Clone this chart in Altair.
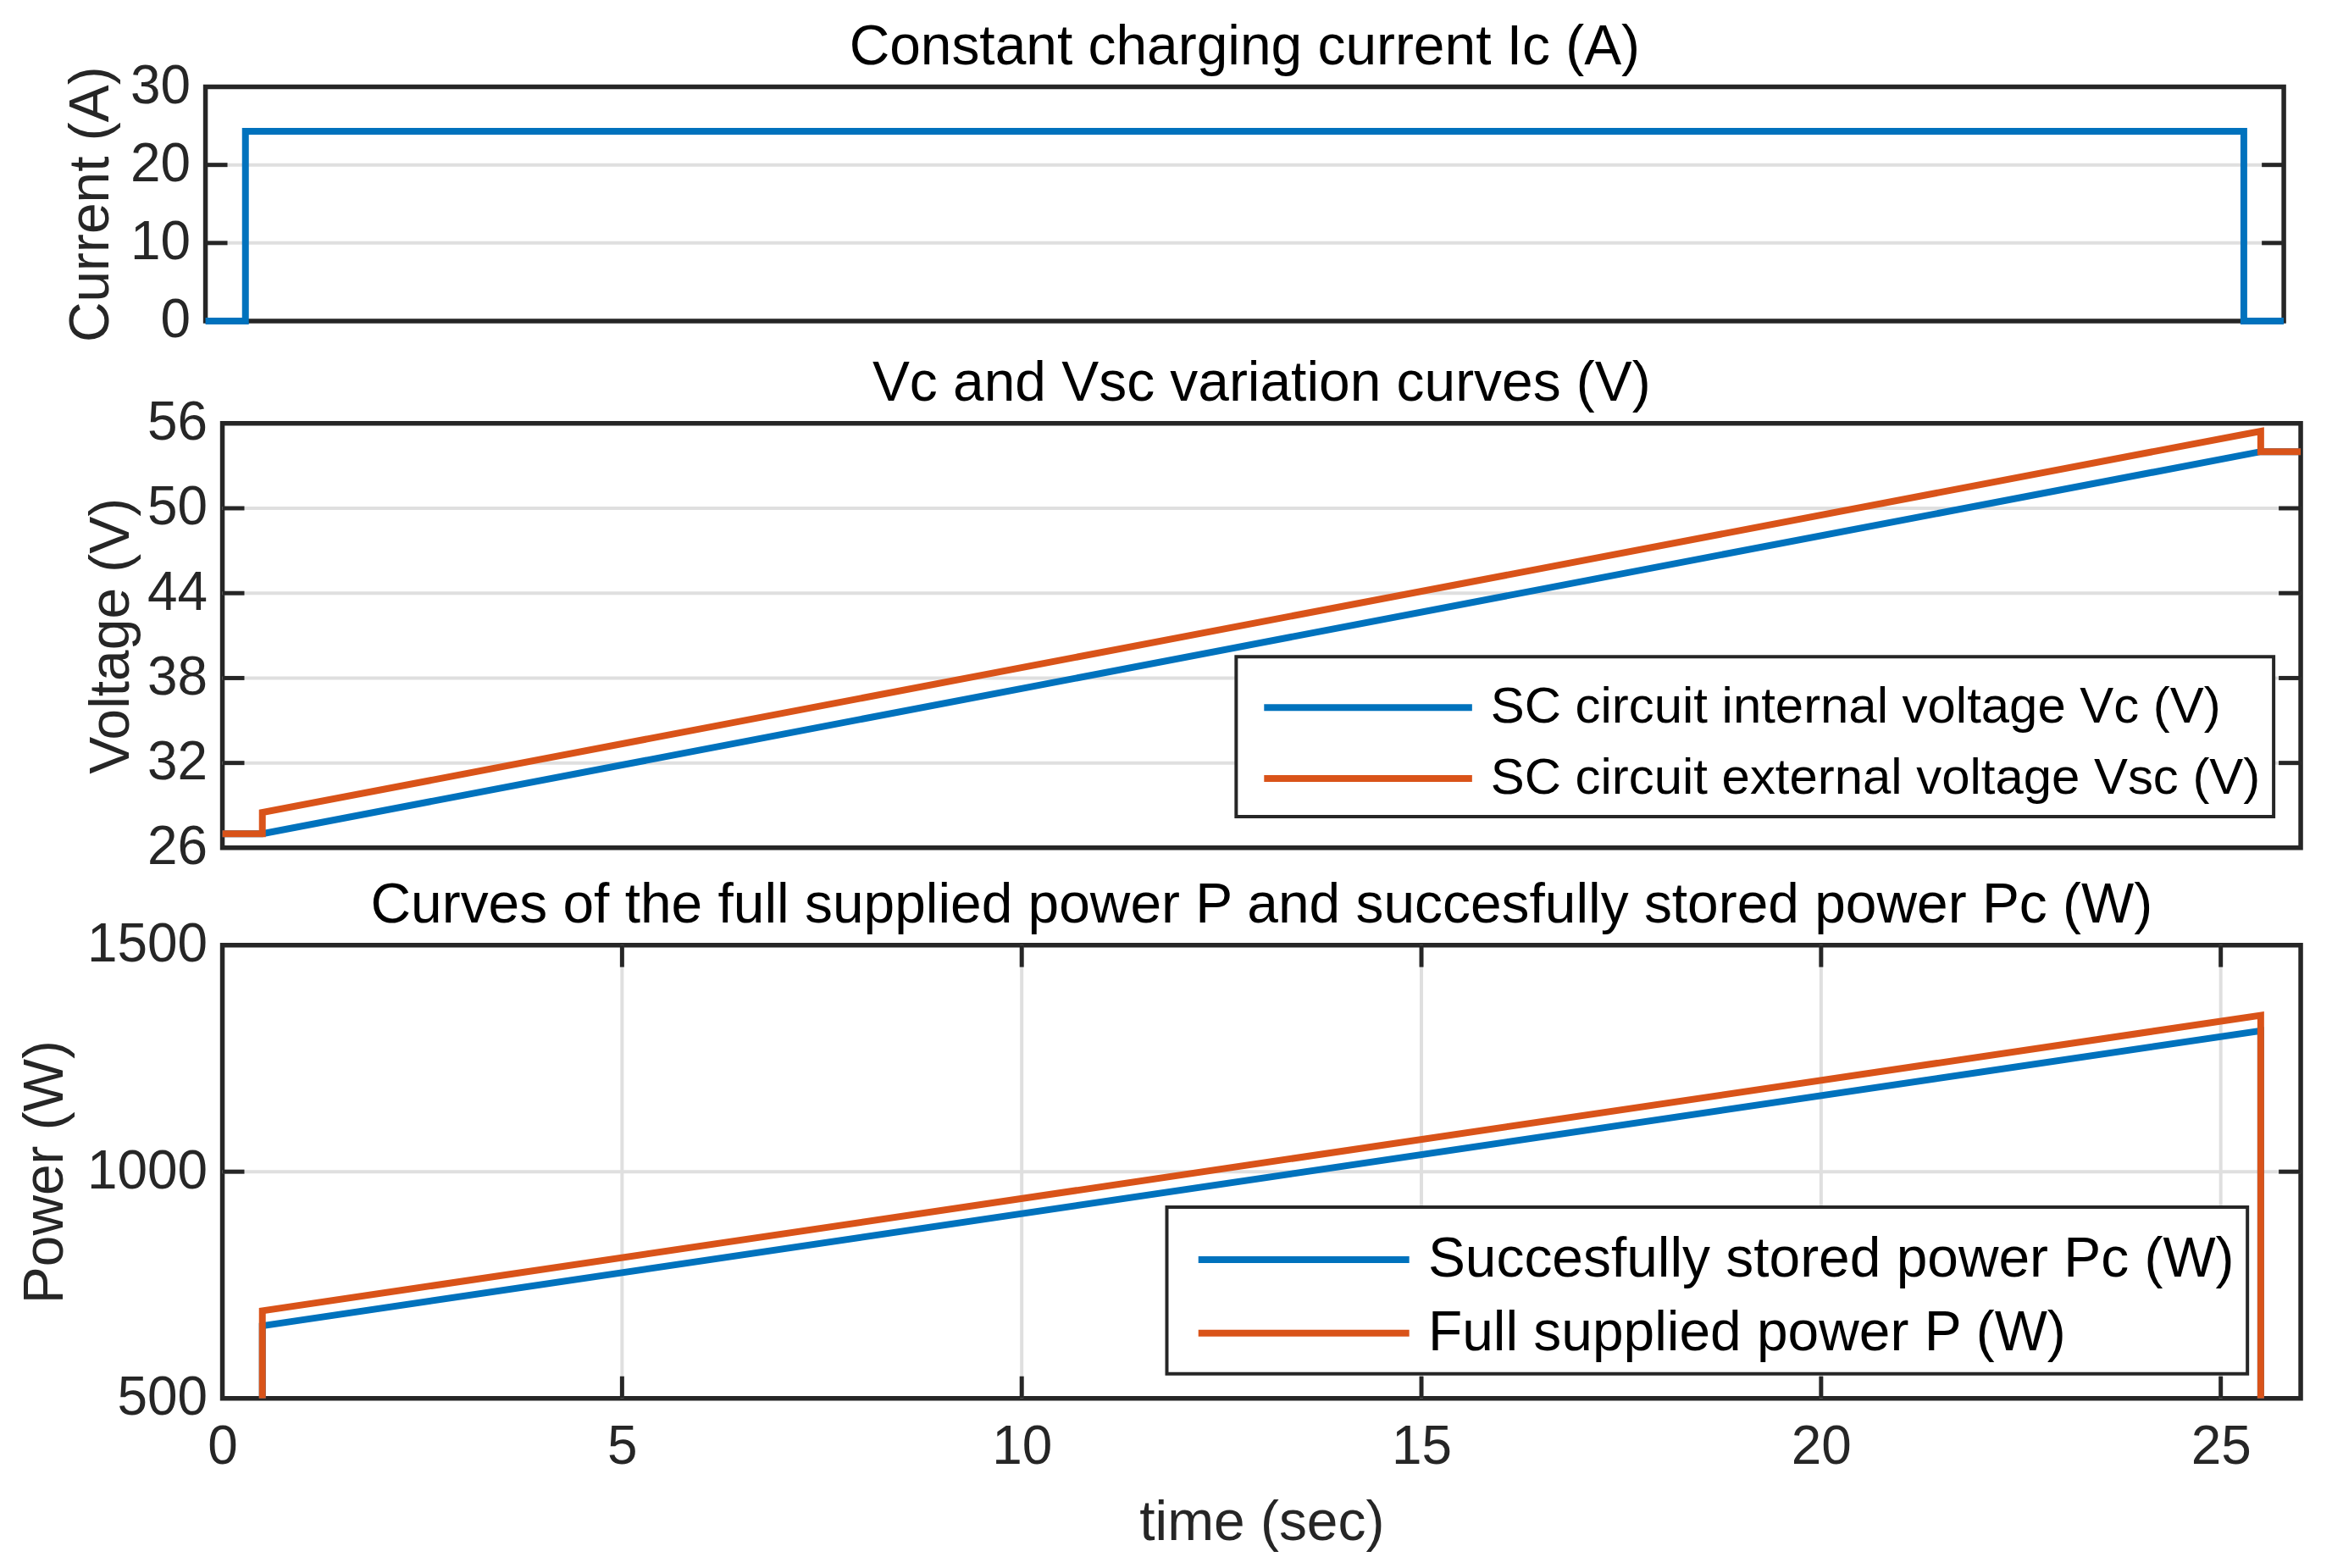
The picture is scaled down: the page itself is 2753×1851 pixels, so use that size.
import altair as alt
import pandas as pd

FONT = "Liberation Sans"
BLUE = "#0072BD"
ORANGE = "#D95319"
AX = "#262626"
GRID = "#dfdfdf"

W = 2458
H1, H2, H3 = 277, 502, 536
SHIFT = 20          # top panel sits a little further left in the original figure
BOX_W = 5.5
TICK_W = 5
GRID_W = 4

# ---------------- data ----------------
t_cur = [0, 0.5, 0.5, 25.5, 25.5, 26]
i_cur = [0, 0, 24.3, 24.3, 0, 0]

t_vc = [0, 0.5, 25.5, 26]
v_vc = [27.0, 27.0, 54.0, 54.0]
t_vsc = [0, 0.5, 0.5, 25.5, 25.5, 26]
v_vsc = [27.0, 27.0, 28.5, 55.45, 54.0, 54.0]

t_pow = [0, 0.5, 0.5, 25.5, 25.5, 26]
p_pc = [0, 0, 660, 1311, 0, 0]
p_p = [0, 0, 693, 1345, 0, 0]

x_ticks = [0, 5, 10, 15, 20, 25]
x_inner_ticks = [5, 10, 15, 20, 25]
y1_ticks = [0, 10, 20, 30]
y1_inner = [10, 20]
y2_ticks = [26, 32, 38, 44, 50, 56]
y2_inner = [32, 38, 44, 50]
y3_ticks = [500, 1000, 1500]
y3_inner = [1000]

LBL_VC = "SC circuit internal voltage Vc (V)"
LBL_VSC = "SC circuit external voltage Vsc (V)"
LBL_PC = "Succesfully stored power Pc (W)"
LBL_P = "Full supplied power P (W)"


def series(t, v, name):
    return pd.DataFrame({"t": t, "v": v, "i": list(range(len(t))), "s": name})


xs = alt.Scale(domain=[0, 26], nice=False, zero=False)
xs_top = alt.Scale(domain=[0, 26], range=[-SHIFT, W - SHIFT], nice=False, zero=False)
TICK_LEN = 26


def title(txt, dx=0):
    return alt.TitleParams(txt, font=FONT, fontSize=66, fontWeight="normal",
                           color="black", offset=-85, baseline="bottom",
                           frame="group", anchor="middle", dx=dx)


def yaxis(vals, ttl, tpad, lpad=18):
    return alt.Axis(values=vals, title=ttl, grid=False, format="d",
                    titlePadding=tpad, labelPadding=lpad)


def ygrid_and_ticks(vals, scale, ax, x0=0):
    df = pd.DataFrame({"v": vals})
    grid = alt.Chart(df).mark_rule(color=GRID, strokeWidth=GRID_W).encode(
        y=alt.Y("v:Q", scale=scale, axis=ax),
        x=alt.value(x0), x2=alt.value(x0 + W))
    left = alt.Chart(df).mark_rule(color=AX, strokeWidth=TICK_W).encode(
        y=alt.Y("v:Q", scale=scale, axis=ax),
        x=alt.value(x0), x2=alt.value(x0 + TICK_LEN))
    right = alt.Chart(df).mark_rule(color=AX, strokeWidth=TICK_W).encode(
        y=alt.Y("v:Q", scale=scale, axis=ax),
        x=alt.value(x0 + W - TICK_LEN), x2=alt.value(x0 + W))
    return [grid, left, right]


# ---------------- top panel ----------------
ys1 = alt.Scale(domain=[0, 30], nice=False, zero=False)
ax1 = yaxis(y1_ticks, "Current (A)", 12, lpad=18 + SHIFT)
x_top_axis = alt.Axis(labels=False, ticks=True, tickSize=37, tickColor="transparent",
                      grid=False, domain=False, title=None, values=[13])
frame = alt.Chart(pd.DataFrame({"k": [0]})).mark_rect(
    filled=False, stroke=AX, strokeWidth=BOX_W).encode(
    x=alt.value(-SHIFT), x2=alt.value(W - SHIFT), y=alt.value(0), y2=alt.value(H1))
cur_line = alt.Chart(series(t_cur, i_cur, "Ic")).mark_line(
    color=BLUE, strokeWidth=8).encode(
    x=alt.X("t:Q", scale=xs_top, axis=x_top_axis),
    y=alt.Y("v:Q", scale=ys1, axis=ax1),
    order="i:Q")
top = alt.layer(*ygrid_and_ticks(y1_inner, ys1, ax1, x0=-SHIFT), frame, cur_line).properties(
    width=W, height=H1, title=title("Constant charging current Ic (A)", dx=-SHIFT),
    view=alt.ViewBackground(stroke="transparent"))

# ---------------- middle panel ----------------
ys2 = alt.Scale(domain=[26, 56], nice=False, zero=False)
ax2 = yaxis(y2_ticks, "Voltage (V)", 8)
col2 = alt.Color("s:N", scale=alt.Scale(domain=[LBL_VC, LBL_VSC], range=[BLUE, ORANGE]),
                 legend=alt.Legend(title=None, orient="none", legendX=1199, legendY=276,
                                   symbolType="M-3,0H3", symbolSize=82 * 82,
                                   symbolStrokeWidth=8, symbolOffset=96, labelOffset=100,
                                   labelFontSize=60, labelFont=FONT, labelColor="black",
                                   labelLimit=3000, padding=15, rowPadding=9,
                                   strokeColor=AX, fillColor="white"))
vc_line = alt.Chart(series(t_vc, v_vc, LBL_VC)).mark_line(strokeWidth=8).encode(
    x=alt.X("t:Q", scale=xs, axis=None),
    y=alt.Y("v:Q", scale=ys2, axis=ax2), color=col2, order="i:Q")
vsc_line = alt.Chart(series(t_vsc, v_vsc, LBL_VSC)).mark_line(strokeWidth=8).encode(
    x=alt.X("t:Q", scale=xs, axis=None),
    y=alt.Y("v:Q", scale=ys2, axis=ax2), color=col2, order="i:Q")
mid = alt.layer(*ygrid_and_ticks(y2_inner, ys2, ax2), vc_line, vsc_line).properties(
    width=W, height=H2, title=title("Vc and Vsc variation curves (V)"))

# ---------------- bottom panel ----------------
ys3 = alt.Scale(domain=[500, 1500], nice=False, zero=False)
ax3 = yaxis(y3_ticks, "Power (W)", 15)
axx = alt.Axis(values=x_ticks, title="time (sec)", grid=False, format="d",
               labelPadding=26, titlePadding=25)
col3 = alt.Color("s:N", scale=alt.Scale(domain=[LBL_PC, LBL_P], range=[BLUE, ORANGE]),
                 legend=alt.Legend(title=None, orient="none", legendX=1117, legendY=310,
                                   symbolType="M-2.9,0H2.9", symbolSize=86 * 86,
                                   symbolStrokeWidth=8, symbolOffset=100, labelOffset=100,
                                   labelFontSize=66, labelFont=FONT, labelColor="black",
                                   labelLimit=3000, padding=15, rowPadding=7,
                                   strokeColor=AX, fillColor="white"))
pc_line = alt.Chart(series(t_pow, p_pc, LBL_PC)).mark_line(strokeWidth=8, clip=True).encode(
    x=alt.X("t:Q", scale=xs, axis=axx),
    y=alt.Y("v:Q", scale=ys3, axis=ax3), color=col3, order="i:Q")
p_line = alt.Chart(series(t_pow, p_p, LBL_P)).mark_line(strokeWidth=8, clip=True).encode(
    x=alt.X("t:Q", scale=xs, axis=axx),
    y=alt.Y("v:Q", scale=ys3, axis=ax3), color=col3, order="i:Q")
xt_df = pd.DataFrame({"t": x_inner_ticks})
xgrid = alt.Chart(xt_df).mark_rule(color=GRID, strokeWidth=GRID_W).encode(
    x=alt.X("t:Q", scale=xs, axis=axx))
xt_bot = alt.Chart(xt_df).mark_rule(color=AX, strokeWidth=TICK_W).encode(
    x=alt.X("t:Q", scale=xs, axis=axx), y=alt.value(H3 - TICK_LEN), y2=alt.value(H3))
xt_top = alt.Chart(xt_df).mark_rule(color=AX, strokeWidth=TICK_W).encode(
    x=alt.X("t:Q", scale=xs, axis=axx), y=alt.value(0), y2=alt.value(TICK_LEN))
bot = alt.layer(xgrid, *ygrid_and_ticks(y3_inner, ys3, ax3), xt_bot, xt_top,
                pc_line, p_line).properties(
    width=W, height=H3,
    title=title("Curves of the full supplied power P and succesfully stored power Pc (W)"))

chart = alt.vconcat(top, mid, bot, spacing=-3).resolve_scale(color="independent").properties(
    padding={"left": 9, "top": 10, "right": 10, "bottom": 10}
).configure_view(stroke=AX, strokeWidth=BOX_W).configure_axis(
    domain=False, ticks=False, labelFlush=False,
    labelFont=FONT, labelFontSize=64, labelColor=AX,
    titleFont=FONT, titleFontSize=66, titleFontWeight="normal", titleColor=AX
).configure_legend(strokeWidth=4)

chart.save("out.html", embed_options={"renderer": "svg", "actions": False})
